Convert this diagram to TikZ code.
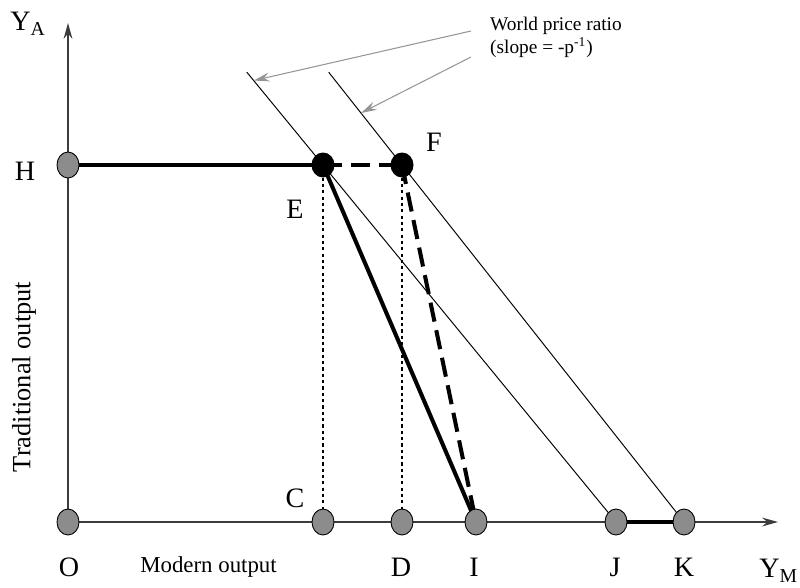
\documentclass[tikz,border=0pt]{standalone}
\usepackage{fontspec}
\setmainfont{Liberation Serif}
\usetikzlibrary{arrows.meta, shapes.geometric, calc, backgrounds}
\definecolor{dotgray}{RGB}{140,140,140}
\definecolor{notegray}{RGB}{150,150,150}
\definecolor{axisgray}{RGB}{60,60,60}

\begin{document}
\begin{tikzpicture}[
  font=\fontsize{16}{18}\selectfont,
  axis/.style={-{Stealth[length=9pt, width=5pt]}, axisgray, line width=0.8pt},
  onaxis/.style={ellipse, draw=black, fill=dotgray, line width=0.5pt,
                 minimum width=0.44cm, minimum height=0.52cm, inner sep=0pt},
  optimum/.style={ellipse, fill=black, minimum width=0.46cm,
                  minimum height=0.50cm, inner sep=0pt},
  heavy/.style={line width=2.3pt},
  heavydash/.style={heavy, dash pattern=on 11pt off 5pt},
  guide/.style={line width=0.85pt, dash pattern=on 1.8pt off 1.8pt},
  budget/.style={line width=0.55pt},
  note/.style={notegray, line width=0.6pt,
               -{Stealth[length=9pt, width=5pt, inset=3pt]}},
  letter/.style={font=\fontsize{16}{18}\selectfont},
  caption/.style={font=\fontsize{11}{13}\selectfont},
  axisname/.style={font=\fontsize{13}{15}\selectfont},
]
\useasboundingbox (0,0) rectangle (16,11.74);

% --- Points on the axes ---
\node[onaxis] (O) at (1.36, 1.30) {};
\node[onaxis] (H) at (1.36, 8.44) {};
\node[onaxis] (C) at (6.46, 1.30) {};
\node[onaxis] (D) at (8.04, 1.30) {};
\node[onaxis] (I) at (9.52, 1.30) {};
\node[onaxis] (J) at (12.32, 1.30) {};
\node[onaxis] (K) at (13.68, 1.30) {};

% --- Production points ---
\node[optimum] (E) at (6.46, 8.44) {};
\node[optimum] (F) at (8.04, 8.44) {};

% --- Axis ends and price lines ---
\coordinate (ytop) at (1.36, 11.28);
\coordinate (xend) at (15.56, 1.30);
\coordinate (L1) at ($(J)!1.26!(E)$);
\coordinate (L2) at ($(K)!1.26!(F)$);
\coordinate (tip1) at ($(L1)!0.09!(E)$);
\coordinate (tip2) at ($(L2)!0.44!(F)$);
\coordinate (tail1) at (9.42, 11.12);
\coordinate (tail2) at (9.42, 10.60);

\begin{scope}[on background layer]
  \draw[axis] (O.center) -- (ytop);
  \draw[axis] (O.center) -- (xend);
  \draw[budget] (L1) -- (J.center);
  \draw[budget] (L2) -- (K.center);
  \draw[guide] (E.center) -- (C.center);
  \draw[guide] (F.center) -- (D.center);
  \draw[heavy] (H.center) -- (E.center);
  \draw[heavydash] (E.center) -- (F.center);
  \draw[heavy] (E.center) -- (I.center);
  \draw[heavydash] (F.center) -- (I.center);
  \draw[heavy] (J.center) -- (K.center);
\end{scope}

% --- Annotation ---
\node[caption, anchor=west, align=left] (ratio) at (9.68, 11.0)
  {World price ratio\\(slope = -p\textsuperscript{-1})};
\draw[note] (tail1) -- (tip1);
\draw[note] (tail2) -- (tip2);

% --- Labels ---
\node[letter] (labYA) at (0.56, 11.26) {Y\textsubscript{A}};
\node[letter] (labH) at (0.50, 8.32) {H};
\node[letter] (labE) at (5.90, 7.56) {E};
\node[letter] (labF) at (8.68, 8.90) {F};
\node[letter] (labC) at (5.90, 1.78) {C};
\node[letter] (labO) at (1.38, 0.40) {O};
\node[letter] (labD) at (8.02, 0.40) {D};
\node[letter] (labI) at (9.48, 0.40) {I};
\node[letter] (labJ) at (12.30, 0.40) {J};
\node[letter] (labK) at (13.68, 0.40) {K};
\node[letter, anchor=west, inner sep=0pt] (labYM) at (15.18, 0.32) {Y\textsubscript{M}};
\node[axisname] (modern) at (4.17, 0.40) {Modern output};
\node[axisname, font=\fontsize{15}{17}\selectfont, rotate=90] (trad) at (0.48, 4.20) {Traditional output};

\end{tikzpicture}
\end{document}
